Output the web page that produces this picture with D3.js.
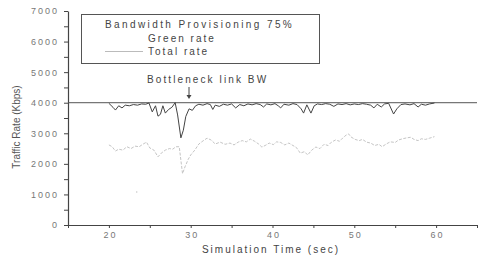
<!DOCTYPE html>
<html>
<head>
<meta charset="utf-8">
<script src="https://cdn.jsdelivr.net/npm/d3@7"></script>
<style>
  body { margin: 0; background: #fff; }
  text { font-family: "Liberation Sans", Arial, sans-serif; }
</style>
</head>
<body>
<script>
// green rate (dark line)
var greenT = [20.0,20.5,20.8,21.2,21.6,22.0,22.5,23.0,23.5,24.0,24.5,24.9,25.3,25.7,26.0,26.3,26.6,26.9,27.3,27.7,28.1,28.4,28.8,29.1,29.4,29.8,30.2,30.6,31.0,31.5,32.0,32.4,32.7,33.0,33.5,34.0,34.5,35.0,35.5,36.0,36.5,37.0,37.5,38.0,38.5,38.9,39.3,39.8,40.3,40.7,41.0,41.4,42.0,42.5,43.0,43.5,43.8,44.2,44.7,45.1,45.5,46.0,46.5,47.0,47.5,48.0,48.5,49.0,49.5,50.0,50.5,51.0,51.5,52.0,52.4,52.8,53.3,53.7,54.2,54.8,55.2,55.7,56.2,56.8,57.3,57.8,58.2,58.7,59.2,59.8];
var greenV = [3980,3850,3760,3900,3830,3920,3900,3940,3920,3960,3950,3990,3700,3900,3560,3620,3900,3660,3780,3850,4000,3600,2850,3100,3550,3800,3750,3900,3950,3920,3970,3940,3780,3920,3880,3950,3920,3960,3830,3940,3900,3960,3930,3970,3940,3860,3960,3930,3970,3900,3830,3950,3920,3970,3940,3800,3660,3930,3660,3900,3960,3940,3970,3950,3880,3960,3940,3970,3930,3960,3940,3970,3950,3920,3830,3950,3860,3960,3980,3630,3800,3940,3960,3930,3970,3860,3950,3920,3960,3990];

// total rate (light dotted line)
var totalT = [20.0,20.4,20.8,21.2,21.7,22.2,22.7,23.2,23.7,24.2,24.6,25.0,25.5,26.0,26.4,26.9,27.4,27.8,28.2,28.6,29.0,29.3,29.7,30.0,30.5,31.0,31.5,32.0,32.5,33.0,33.6,34.2,34.8,35.3,35.8,36.3,36.8,37.3,37.8,38.3,38.7,39.1,39.6,40.1,40.5,41.0,41.5,42.0,42.5,42.9,43.4,43.9,44.3,44.8,45.3,45.8,46.3,46.8,47.2,47.7,48.2,48.6,49.0,49.3,49.6,50.1,50.6,51.0,51.5,52.0,52.5,53.0,53.4,53.9,54.4,55.0,55.4,55.9,56.4,56.9,57.3,57.8,58.2,58.7,59.2,59.8];
var totalV = [2620,2560,2420,2480,2450,2560,2500,2580,2560,2650,2710,2520,2450,2230,2350,2450,2500,2480,2560,2560,1680,1900,2150,2290,2450,2650,2750,2840,2780,2650,2710,2640,2680,2620,2710,2760,2720,2810,2740,2650,2550,2600,2680,2630,2720,2700,2620,2680,2600,2540,2350,2400,2290,2450,2550,2500,2640,2600,2710,2780,2740,2850,2940,2980,2880,2800,2760,2800,2710,2680,2600,2640,2560,2650,2720,2700,2780,2820,2850,2870,2800,2760,2820,2800,2840,2890];
// stray total-rate sample
var strayT = [23.4];
var strayV = [1080];

var bottleneckBW = 4000;
var xTicks = [20, 30, 40, 50, 60];
var yTicks = [0, 1000, 2000, 3000, 4000, 5000, 6000, 7000];

var legendTitle = "Bandwidth Provisioning 75%";
var seriesNames = ["Green rate", "Total rate"];

var width = 479, height = 259;
var margin = {left: 68, right: 2, top: 11, bottom: 34};

var svg = d3.select("body").append("svg")
    .attr("width", width)
    .attr("height", height);

var x = d3.scaleLinear().domain([15, 65]).range([margin.left, width - margin.right]);
var y = d3.scaleLinear().domain([0, 7000]).range([height - margin.bottom, margin.top]);

// axes
var xAxis = d3.axisBottom(x).tickValues(d3.range(15, 66, 5)).tickSize(3).tickSizeOuter(0)
    .tickFormat(function(d){ return xTicks.indexOf(d) >= 0 ? d : ""; });
var gx = svg.append("g").attr("transform", "translate(0," + y(0) + ")").call(xAxis);

var yAxis = d3.axisLeft(y).tickValues(d3.range(0, 7001, 500)).tickSize(4).tickSizeOuter(0)
    .tickFormat(function(d){ return yTicks.indexOf(d) >= 0 ? d : ""; });
var gy = svg.append("g").attr("transform", "translate(" + x(15) + ",0)").call(yAxis);

[gx, gy].forEach(function(g){
    g.select(".domain").attr("stroke", "#444").attr("stroke-width", 1.2);
    g.selectAll(".tick line").attr("stroke", "#444");
    g.selectAll(".tick text").attr("fill", "#777").attr("font-size", 9)
        .style("letter-spacing", "2px")
        .attr("font-family", "'Liberation Sans', Arial, sans-serif");
});
gx.selectAll(".tick text").attr("dy", "0.8em").attr("dx", "1px");
gy.selectAll(".tick text").attr("x", -9);

// bottleneck line
svg.append("line")
    .attr("x1", x(15)).attr("x2", x(65))
    .attr("y1", y(bottleneckBW)).attr("y2", y(bottleneckBW))
    .attr("stroke", "#555").attr("stroke-width", 1);

var totalData = totalT.map(function(t, i){ return [t, totalV[i]]; });
var greenData = greenT.map(function(t, i){ return [t, greenV[i]]; });
var line = d3.line().x(function(d){ return x(d[0]); }).y(function(d){ return y(d[1]); });

svg.append("path").datum(totalData).attr("d", line)
    .attr("fill", "none").attr("stroke", "#bdbdbd").attr("stroke-width", 0.9)
    .attr("stroke-dasharray", "3,1.5");

svg.selectAll(".stray").data(strayT).enter().append("circle")
    .attr("cx", function(d){ return x(d); })
    .attr("cy", function(d, i){ return y(strayV[i]); })
    .attr("r", 0.8).attr("fill", "#c8c8c8");

svg.append("path").datum(greenData).attr("d", line)
    .attr("fill", "none").attr("stroke", "#444").attr("stroke-width", 1);

// legend box
svg.append("rect").attr("x", 81.5).attr("y", 14.5).attr("width", 238).attr("height", 49)
    .attr("fill", "#fff").attr("stroke", "#555").attr("stroke-width", 1);
svg.append("text").attr("x", 105).attr("y", 28).text(legendTitle)
    .attr("font-size", 10).attr("fill", "#444").style("letter-spacing", "2.4px");
svg.append("text").attr("x", 148).attr("y", 42).text(seriesNames[0])
    .attr("font-size", 10).attr("fill", "#444").style("letter-spacing", "2px");
svg.append("text").attr("x", 148).attr("y", 55).text(seriesNames[1])
    .attr("font-size", 10).attr("fill", "#444").style("letter-spacing", "2px");
svg.append("line").attr("x1", 105).attr("x2", 143).attr("y1", 51.5).attr("y2", 51.5)
    .attr("stroke", "#bbb").attr("stroke-width", 1);

// annotation
svg.append("text").attr("x", 147).attr("y", 83).text("Bottleneck link BW")
    .attr("font-size", 10).attr("fill", "#444").style("letter-spacing", "2.1px");
svg.append("line").attr("x1", 189).attr("x2", 189).attr("y1", 87).attr("y2", 97)
    .attr("stroke", "#444").attr("stroke-width", 1);
svg.append("path").attr("d", "M186.5,95 L189,99 L191.5,95 Z").attr("fill", "#444");

// axis titles
svg.append("text").attr("x", 271).attr("y", 253).attr("text-anchor", "middle")
    .text("Simulation Time (sec)").attr("font-size", 10).attr("fill", "#444")
    .style("letter-spacing", "2px");
svg.append("text").attr("transform", "translate(20,127) rotate(-90)").attr("text-anchor", "middle")
    .text("Traffic Rate (Kbps)").attr("font-size", 10).attr("fill", "#555");
</script>
</body>
</html>
